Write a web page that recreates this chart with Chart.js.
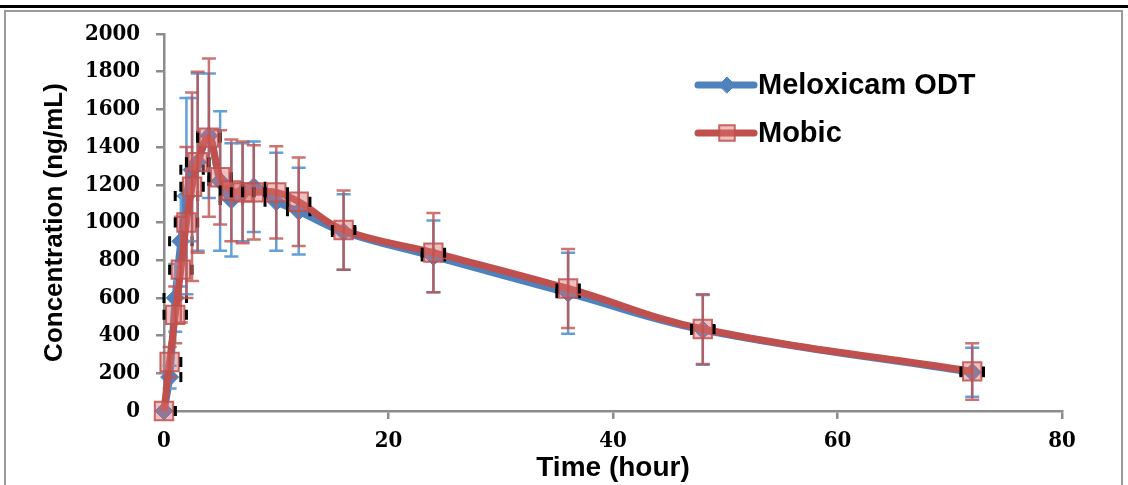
<!DOCTYPE html>
<html>
<head>
<meta charset="utf-8">
<script src="https://cdn.jsdelivr.net/npm/chart.js@4.4.0/dist/chart.umd.min.js"></script>
<style>
  html, body { margin: 0; padding: 0; background: #fff; }
  #wrap { position: relative; width: 1128px; height: 485px; overflow: hidden; }
  .topline { position: absolute; left: 0; top: 5px; width: 1128px; height: 3px; background: #000; }
  .frame { position: absolute; left: 4px; top: 10px; width: 1115px; height: 520px; border: 2px solid #9a9a9a; }
  #pk-chart { position: absolute; left: 0; top: 0; }
</style>
</head>
<body>
<div id="wrap">
  <div class="topline"></div>
  <div class="frame"></div>
  <canvas id="pk-chart" width="1128" height="485"></canvas>
</div>
<script>
// data =========================================================//

const times = [0, 0.5, 1, 1.5, 2, 2.5, 3, 4, 5, 6, 7, 8, 10, 12, 16, 24, 36, 48, 72];

const odtMean = [0, 180, 600, 900, 1140, 1280, 1320, 1460, 1220, 1120, 1160, 1190, 1110, 1060, 950, 820, 625, 430, 205];
const odtSd = [0, 60, 180, 240, 520, 380, 470, 330, 370, 300, 260, 240, 260, 230, 200, 190, 215, 185, 130];

const mobicMean = [0, 260, 510, 750, 1000, 1190, 1320, 1450, 1240, 1170, 1160, 1160, 1160, 1110, 960, 840, 650, 435, 210];
const mobicSd = [0, 80, 150, 280, 400, 500, 480, 420, 250, 270, 270, 250, 245, 235, 210, 210, 210, 185, 150];

const timeErr = 1; // black x error caps, hours

const xTicks = [0, 20, 40, 60, 80];
const yTicks = [0, 200, 400, 600, 800, 1000, 1200, 1400, 1600, 1800, 2000];

// data =========================================================//


const BLUE = 'rgb(79, 129, 189)';
const RED = 'rgb(192, 80, 77)';
const AXIS = '#8c8c8c';

const toPoints = (means) => times.map((t, i) => ({ x: t, y: means[i] }));


// error bars drawn right after each series
const errorBars = {
    id: 'errorBars',
    afterDatasetDraw(chart, args) {
        const ds = chart.data.datasets[args.index];
        const meta = args.meta;
        const xs = chart.scales.x, ys = chart.scales.y;
        const ctx = chart.ctx;
        ctx.save();
        meta.data.forEach((pt, i) => {
            const m = ds.data[i].y;
            const sd = ds.sd[i];
            if (sd) {
                const top = ys.getPixelForValue(m + sd);
                const bot = ys.getPixelForValue(m - sd);
                ctx.strokeStyle = ds.errColor;
                ctx.lineWidth = 2.5;
                ctx.beginPath();
                ctx.moveTo(pt.x, top); ctx.lineTo(pt.x, bot);
                ctx.moveTo(pt.x - 7, top); ctx.lineTo(pt.x + 7, top);
                ctx.moveTo(pt.x - 7, bot); ctx.lineTo(pt.x + 7, bot);
                ctx.stroke();
            }
            const t = ds.data[i].x;
            ctx.strokeStyle = '#000';
            ctx.lineWidth = 3;
            ctx.beginPath();
            [t - timeErr, t + timeErr].forEach(v => {
                if (v < 0) return;
                const px = xs.getPixelForValue(v);
                ctx.moveTo(px, pt.y - 5);
                ctx.lineTo(px, pt.y + 5);
            });
            ctx.stroke();
        });
        ctx.restore();
    }
};


// legend with line + marker samples
const sampleLegend = {
    id: 'sampleLegend',
    afterDraw(chart) {
        const ctx = chart.ctx;
        const items = [chart.data.datasets[1], chart.data.datasets[0]];
        items.forEach((ds, i) => {
            const yy = 85 + i * 48;
            ctx.save();
            ctx.strokeStyle = ds.borderColor;
            ctx.lineWidth = 7;
            ctx.lineCap = 'round';
            ctx.beginPath();
            ctx.moveTo(698, yy);
            ctx.lineTo(754, yy);
            ctx.stroke();
            ctx.fillStyle = ds.pointBackgroundColor;
            ctx.strokeStyle = ds.pointBorderColor;
            ctx.lineWidth = ds.pointBorderWidth;
            Chart.helpers.drawPoint(ctx, {
                pointStyle: ds.pointStyle,
                radius: ds.legendRadius,
                borderWidth: ds.pointBorderWidth
            }, 727, yy);
            ctx.fillStyle = '#000';
            ctx.font = 'bold 29px "Liberation Sans", Arial, sans-serif';
            ctx.textBaseline = 'middle';
            ctx.textAlign = 'left';
            ctx.fillText(ds.label, 758, yy + 1);
            ctx.restore();
        });
    }
};


const pkCanvas = document.getElementById('pk-chart');

const tickFont = { family: '"DejaVu Serif Condensed", "DejaVu Serif", serif', weight: 'bold', size: 22 };

const pkData = {
    datasets: [{
        label: 'Mobic',
        data: toPoints(mobicMean),
        sd: mobicSd,
        errColor: 'rgba(192, 80, 77, 0.8)',
        order: 0,
        clip: false,
        borderColor: RED,
        borderWidth: 7,
        pointStyle: 'rect',
        pointRadius: 13,
        legendRadius: 11,
        pointBackgroundColor: 'rgba(220, 110, 110, 0.45)',
        pointBorderColor: 'rgba(192, 80, 77, 0.85)',
        pointBorderWidth: 2,
        tension: 0.4,
        fill: false
    }, {
        label: 'Meloxicam ODT',
        data: toPoints(odtMean),
        sd: odtSd,
        errColor: 'rgb(100, 160, 215)',
        order: 1,
        clip: false,
        borderColor: BLUE,
        borderWidth: 7,
        pointStyle: 'rectRot',
        pointRadius: 9,
        legendRadius: 8,
        pointBackgroundColor: BLUE,
        pointBorderColor: BLUE,
        pointBorderWidth: 1,
        tension: 0.4,
        fill: false
    }]
};

const pkConfig = {
    type: 'line',
    data: pkData,
    options: {
        responsive: false,
        animation: false,
        layout: { padding: { top: 34, right: 66, bottom: 0, left: 0 } },
        plugins: {
            legend: { display: false },
            tooltip: { enabled: false }
        },
        scales: {
            x: {
                type: 'linear',
                min: xTicks[0],
                max: xTicks[xTicks.length - 1],
                afterBuildTicks: (s) => { s.ticks = xTicks.map(v => ({ value: v })); },
                afterFit: (s) => { s.height = 74; },
                ticks: { color: '#000', font: tickFont, padding: 9, maxRotation: 0, callback: (v) => String(v) },
                grid: { drawOnChartArea: false, tickLength: 8, color: AXIS, lineWidth: 2.5 },
                border: { color: AXIS, width: 2.5 },
                title: {
                    display: true,
                    text: 'Time (hour)',
                    color: '#000',
                    font: { family: '"Liberation Sans", Arial, sans-serif', weight: 'bold', size: 28 },
                    padding: { top: 0, bottom: 0 }
                }
            },
            y: {
                min: yTicks[0],
                max: yTicks[yTicks.length - 1],
                afterBuildTicks: (s) => { s.ticks = yTicks.map(v => ({ value: v })); },
                afterFit: (s) => { s.width = 164; },
                ticks: { color: '#000', font: tickFont, padding: 16, callback: (v) => String(v) },
                grid: { drawOnChartArea: false, tickLength: 8, color: AXIS, lineWidth: 2.5 },
                border: { color: AXIS, width: 2.5 },
                title: {
                    display: true,
                    text: 'Concentration (ng/mL)',
                    color: '#000',
                    font: { family: '"Liberation Sans", Arial, sans-serif', weight: 'bold', size: 26 },
                    padding: { top: 39, bottom: 0 }
                }
            }
        }
    },
    plugins: [errorBars, sampleLegend]
};

const pkChart = new Chart(pkCanvas, pkConfig);
</script>
</body>
</html>
